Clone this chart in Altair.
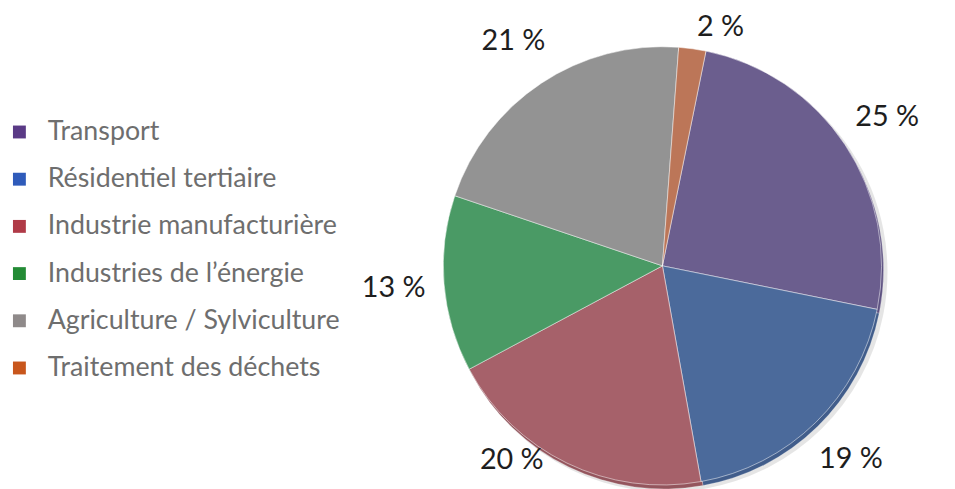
import math
import altair as alt
import pandas as pd

categories = [
    "Transport",
    "Résidentiel tertiaire",
    "Industrie manufacturière",
    "Industries de l’énergie",
    "Agriculture / Sylviculture",
    "Traitement des déchets",
]
shares = [25, 19, 20, 13, 21, 2]
labels = ["25 %", "19 %", "20 %", "13 %", "21 %", "2 %"]
slice_colors = ["#6B5E8E", "#4B6A9B", "#A6616A", "#4A9A65", "#939393", "#BC7658"]
edge_colors = ["#5C5080", "#415D8B", "#94555D", "#3F8858", "#838383", "#A8684C"]
legend_colors = ["#5A3A86", "#2F5BBA", "#B03A47", "#238B35", "#8F8A8A", "#C8561C"]

df = pd.DataFrame({
    "cat": categories,
    "share": shares,
    "label": labels,
    "idx": list(range(len(categories))),
    "slice_color": slice_colors,
    "edge_color": edge_colors,
    "legend_color": legend_colors,
})

start = 0.2
theta = alt.Theta("share:Q", stack=True, scale=alt.Scale(range=[start, start + 2 * math.pi]))
cx, cy, R = 660, 258, 221
LR = 272              # preferred label distance from the centre
RMIN = 248            # a label never comes closer than this
YMIN, YMAX = 17, 454  # keep labels inside the frame

def pie_layer(x, y):
    return alt.Chart(df).encode(
        theta=theta,
        order=alt.Order("idx:Q"),
        x=alt.value(x),
        y=alt.value(y),
    )

shadow = pie_layer(cx + 5, cy + 6).mark_arc(radius=R + 1, fill="#000000", fillOpacity=0.10)
edge = pie_layer(cx + 2, cy + 4).mark_arc(radius=R, stroke="#ffffff", strokeWidth=0.6, strokeOpacity=0.4).encode(
    fill=alt.Fill("edge_color:N", scale=None)
)
slices = pie_layer(cx, cy).mark_arc(radius=R, stroke="#ffffff", strokeWidth=1, strokeOpacity=0.5).encode(
    fill=alt.Fill("slice_color:N", scale=None)
)

pct = (
    alt.Chart(df)
    .transform_window(cum="sum(share)", sort=[alt.SortField("idx")], frame=[None, 0])
    .transform_calculate(ang=f"{start} + (datum.cum - datum.share / 2) / 100 * 2 * PI")
    .transform_calculate(
        dx=f"{LR} * sin(datum.ang)",
        ly=f"clamp({cy} - {LR} * cos(datum.ang), {YMIN}, {YMAX})",
    )
    .transform_calculate(need=f"sqrt(max(0, {RMIN} * {RMIN} - pow(datum.ly - {cy}, 2)))")
    .transform_calculate(
        lx=f"{cx} + (abs(datum.dx) < datum.need ? (datum.dx < 0 ? -1 : 1) * datum.need : datum.dx)"
    )
    .mark_text(font="Lato", fontSize=29, color="#1e1e1e", baseline="middle", align="center")
    .encode(
        x=alt.X("lx:Q", scale=None, axis=None),
        y=alt.Y("ly:Q", scale=None, axis=None),
        text="label:N",
    )
)

leg_base = alt.Chart(df).encode(
    y=alt.Y("cat:N", sort=categories, scale=alt.Scale(type="point", range=[123, 361], padding=0), axis=None)
)
squares = leg_base.mark_square(size=169, opacity=1).encode(
    x=alt.value(11.5), fill=alt.Fill("legend_color:N", scale=None)
)
names = leg_base.mark_text(align="left", baseline="middle", font="Lato", fontSize=27, color="#6E6E6E").encode(
    x=alt.value(40), text="cat:N"
)

chart = (
    alt.layer(shadow, edge, slices, pct, squares, names)
    .resolve_scale(x="independent", y="independent")
    .properties(width=947, height=481, padding=0, autosize=alt.AutoSizeParams(type="none"))
    .configure_view(stroke=None)
)
chart.save("out.html", embed_options={"renderer": "svg", "actions": False})
